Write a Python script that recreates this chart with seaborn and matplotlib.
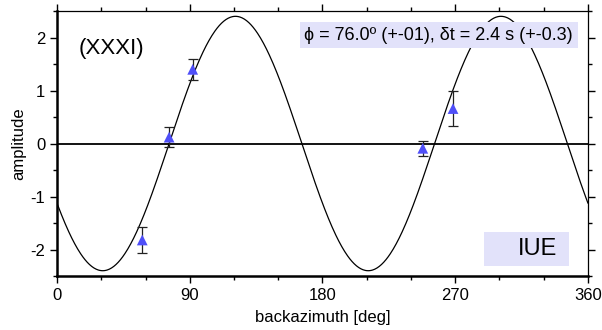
#!/usr/bin/env python3
"""Splitting-style backazimuth fit: amplitude vs backazimuth with 2-theta model."""

import matplotlib.pyplot as plt
import matplotlib.ticker as ticker
import numpy as np
import pandas as pd
import seaborn as sns
from matplotlib.patches import Rectangle

baz = [57.8, 76.0, 92.0, 248.0, 268.5]
amp = [-1.82, 0.12, 1.40, -0.09, 0.66]
amp_err = [0.24, 0.19, 0.20, 0.14, 0.33]

# Fit parameters shown in the label
PHI = 76.0
DT = 2.4

LABEL_FIT = "\u03d5 = 76.0\u00ba (+-01), \u03b4t = 2.4 s (+-0.3)"
LABEL_EVENT = "(XXXI)"
LABEL_STATION = "IUE"
BOX_COLOR = "#e2e2fa"
MARKER_COLOR = "#4f4ff8"


def main():
    sns.set_style("ticks")
    plt.rcParams["font.family"] = ["Liberation Sans", "DejaVu Sans"]
    plt.rcParams["axes.unicode_minus"] = False
    for key in ["text.color", "axes.labelcolor", "xtick.color", "ytick.color"]:
        plt.rcParams[key] = "black"

    fig = plt.figure(figsize=(6.02, 3.30), dpi=100)
    ax = fig.add_axes([0.0947, 0.1636, 0.882, 0.803])

    # model curve from the fitted parameters
    x = np.linspace(0, 360, 721)
    curve = pd.DataFrame({"baz": x, "amp": DT * np.sin(np.radians(2 * (x - PHI)))})
    sns.lineplot(data=curve, x="baz", y="amp", color="black", lw=0.9, ax=ax)

    ax.axhline(0, color="black", lw=1.3, zorder=1)

    pts = pd.DataFrame({"baz": baz, "amp": amp, "err": amp_err})
    ax.errorbar(pts["baz"], pts["amp"], yerr=pts["err"], fmt="none",
                ecolor="#222222", elinewidth=0.9, capsize=3.5, capthick=0.9, zorder=3)
    sns.scatterplot(data=pts, x="baz", y="amp", marker="^", s=60,
                    color=MARKER_COLOR, edgecolor="none", zorder=4, ax=ax)

    # labels / boxes
    ax.add_patch(Rectangle((0.458, 0.860), 0.523, 0.098, transform=ax.transAxes,
                           facecolor=BOX_COLOR, edgecolor="none", zorder=2))
    ax.text(0.719, 0.909, LABEL_FIT, transform=ax.transAxes, ha="center",
            va="center", fontsize=13, zorder=5)
    ax.add_patch(Rectangle((0.804, 0.038), 0.160, 0.128, transform=ax.transAxes,
                           facecolor=BOX_COLOR, edgecolor="none", zorder=2))
    ax.text(0.942, 0.102, LABEL_STATION, transform=ax.transAxes, ha="right",
            va="center", fontsize=17, zorder=5)
    ax.text(0.041, 0.86, LABEL_EVENT, transform=ax.transAxes, ha="left",
            va="center", fontsize=16)

    ax.set_xlim(0, 360)
    ax.set_ylim(-2.5, 2.5)
    ax.xaxis.set_major_locator(ticker.MultipleLocator(90))
    ax.xaxis.set_minor_locator(ticker.MultipleLocator(30))
    ax.yaxis.set_major_locator(ticker.MultipleLocator(1))
    ax.yaxis.set_minor_locator(ticker.MultipleLocator(0.5))
    ax.tick_params(which="both", top=True, right=True, direction="out",
                   color="black", labelsize=12)
    ax.tick_params(which="major", length=5, width=1)
    ax.tick_params(which="minor", length=3, width=1)
    ax.tick_params(labeltop=False, labelright=False)

    for side in ["left", "bottom"]:
        ax.spines[side].set_linewidth(1.8)
    for side in ["top", "right"]:
        ax.spines[side].set_visible(True)
        ax.spines[side].set_linewidth(0.9)
    for sp in ax.spines.values():
        sp.set_color("black")

    ax.set_xlabel("backazimuth [deg]", fontsize=12, labelpad=5)
    ax.set_ylabel("amplitude", fontsize=12, labelpad=3)

    fig.savefig("out.png", dpi=100)
    plt.close(fig)


if __name__ == "__main__":
    main()
